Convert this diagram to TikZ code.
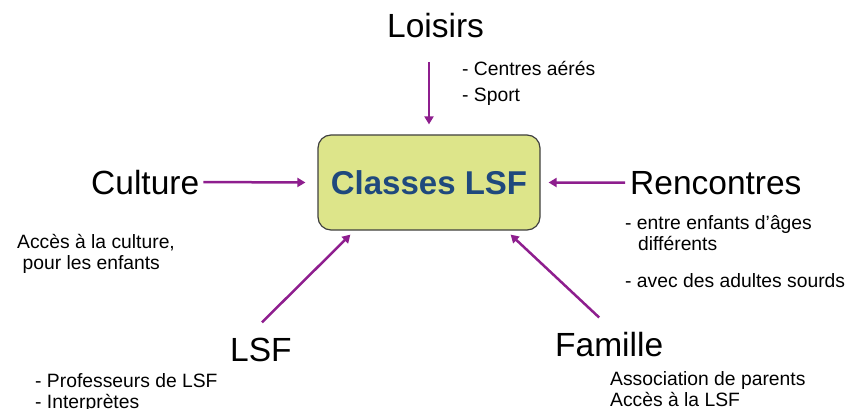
\documentclass[tikz,border=0pt]{standalone}
\usepackage{fontspec}
\setmainfont{Liberation Sans}
\usepackage{xcolor}
\usetikzlibrary{arrows.meta,positioning,calc}

\definecolor{boxfill}{RGB}{221,229,138}
\definecolor{boxtext}{RGB}{31,73,125}
\definecolor{linkcol}{RGB}{142,30,142}

\begin{document}
\begin{tikzpicture}[
  x=1pt, y=-1pt,
  theme/.style={inner sep=0pt, font=\fontsize{33.5}{36}\selectfont},
  note/.style={inner sep=0pt, align=left, font=\fontsize{19.3}{21.5}\selectfont},
  arrow/.style={-{Triangle[length=8pt,width=9pt]}, line width=2.5pt, linkcol}
]
\useasboundingbox (0,0) rectangle (852,409);

% Centre
\node[draw=black!75, line width=1.2pt, fill=boxfill, rounded corners=13pt,
  minimum width=222pt, minimum height=95pt, text=boxtext,
  font=\fontsize{33}{36}\selectfont\bfseries] (classes) at (429,182.5) {Classes LSF};

% Themes
\node[theme, anchor=base west] (loisirs) at (387,38) {Loisirs};
\node[theme, anchor=base west] (culture) at (91,194) {Culture};
\node[theme, anchor=base west] (rencontres) at (630,194) {Rencontres};
\node[theme, anchor=base west] (lsf) at (230,361) {LSF};
\node[theme, anchor=base west] (famille) at (555,356) {Famille};

% Details
\node[note, anchor=north west] (loisirsnote) at (462,61) {- Centres aérés\\[5pt]- Sport};
\node[note, anchor=north west] (culturenote) at (17,234) {Accès à la culture,\\ \ pour les enfants};
\node[note, anchor=north west] (rencontresnote) at (625,215) {- entre enfants d’âges\\ \hspace{13pt}différents};
\node[note, anchor=north west] (rencontresnote2) at (625,273) {- avec des adultes sourds};
\node[note, anchor=north west] (lsfnote) at (35,373) {- Professeurs de LSF\\- Interprètes};
\node[note, anchor=north west] (famillenote) at (610,371) {Association de parents\\Accès à la LSF};

% Arrows
\draw[arrow] (classes.north |- 0,62) -- ([yshift=10pt]classes.north);
\draw[arrow] (culture.east) ++(4,0) -- ([xshift=-12pt]classes.west);
\draw[arrow] ([xshift=-5pt]rencontres.west) -- ([xshift=8pt]classes.east);
\draw[arrow] ($(lsf.north)+(1,-15)$) -- ($(classes.south west)+(33,4)$);
\draw[arrow] ($(famille.north)+(-10,-14)$) -- ($(classes.south east)+(-30,4)$);

\end{tikzpicture}
\end{document}
